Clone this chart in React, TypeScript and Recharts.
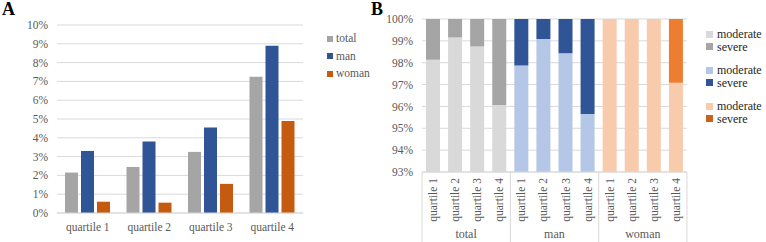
import { Bar, BarChart, CartesianGrid, Cell, Legend, XAxis, YAxis } from "recharts";

const FONT = '"Liberation Serif", "Times New Roman", serif';

// Panel A: share per quartile (%)
const quartiles = ["quartile 1", "quartile 2", "quartile 3", "quartile 4"];
const totalRate = [2.15, 2.45, 3.25, 7.25];
const manRate = [3.3, 3.8, 4.55, 8.9];
const womanRate = [0.6, 0.55, 1.55, 4.9];
const ticksA = [0, 1, 2, 3, 4, 5, 6, 7, 8, 9, 10];

// Panel B: moderate / severe split (%) per group and quartile
const groups = ["total", "man", "woman"];
const moderateByGroup = [
  [98.13, 99.15, 98.74, 96.06],
  [97.87, 99.09, 98.43, 95.65],
  [100, 100, 100, 97.08],
];
const severeByGroup = [
  [1.87, 0.85, 1.26, 3.94],
  [2.13, 0.91, 1.57, 4.35],
  [0, 0, 0, 2.92],
];
const ticksB = [93, 94, 95, 96, 97, 98, 99, 100];

const colorsA = { total: "#a5a5a5", man: "#2f5597", woman: "#c55a11" };
const moderateColors = ["#d9d9d9", "#b4c7e7", "#f8cbad"];
const severeColors = ["#a5a5a5", "#2f5597", "#ed7d31"];
const legendSevereColors = ["#a5a5a5", "#2f5597", "#c9621c"];

const dataA = quartiles.map((q, i) => ({
  quartile: q,
  total: totalRate[i],
  man: manRate[i],
  woman: womanRate[i],
}));

const dataB = groups.flatMap((g, gi) =>
  quartiles.map((q, qi) => ({
    key: `${g}-${qi}`,
    quartile: q,
    group: g,
    gi,
    moderate: moderateByGroup[gi][qi],
    severe: severeByGroup[gi][qi],
  }))
);

const BAND_B = 22;
const TICK_COLOR = "#595959";

function LegendA() {
  const items = [
    { name: "total", color: colorsA.total },
    { name: "man", color: colorsA.man },
    { name: "woman", color: colorsA.woman },
  ];
  return (
    <div style={{ fontFamily: FONT, fontSize: 11.5, color: TICK_COLOR, lineHeight: "17.5px" }}>
      {items.map((it) => (
        <div key={it.name} style={{ display: "flex", alignItems: "center", height: 17.5 }}>
          <span style={{ width: 6, height: 6, background: it.color, marginRight: 3 }} />
          {it.name}
        </div>
      ))}
    </div>
  );
}

function LegendB() {
  return (
    <div style={{ fontFamily: FONT, fontSize: 12, color: "#262626", lineHeight: "12.5px" }}>
      {groups.map((g, gi) => (
        <div key={g} style={{ marginBottom: 11 }}>
          {[
            { name: "moderate", color: moderateColors[gi] },
            { name: "severe", color: legendSevereColors[gi] },
          ].map((it) => (
            <div key={it.name} style={{ display: "flex", alignItems: "center", height: 12.5 }}>
              <span style={{ width: 7, height: 7, background: it.color, marginRight: 4 }} />
              {it.name}
            </div>
          ))}
        </div>
      ))}
    </div>
  );
}

// plain svg tick so the serif font is applied through style
function SerifTick(props: any) {
  const { x, y, payload, textAnchor, tickFormatter, orientation } = props;
  const label = tickFormatter ? tickFormatter(payload.value) : payload.value;
  const dy = orientation === "bottom" ? "0.71em" : "0.355em";
  return (
    <text
      x={x}
      y={y}
      dy={dy}
      textAnchor={textAnchor}
      fill={TICK_COLOR}
      style={{ fontFamily: FONT, fontSize: 11.5 }}
    >
      {label}
    </text>
  );
}

function QuartileTick(props: any) {
  const { x, y, index } = props;
  const row = dataB[index];
  const qi = index % 4;
  const half = BAND_B / 2;
  return (
    <g>
      <text
        x={x}
        y={y + 6}
        transform={`rotate(-90, ${x}, ${y + 6})`}
        textAnchor="end"
        dy="0.35em"
        fill={TICK_COLOR}
        style={{ fontFamily: FONT, fontSize: 11.5 }}
      >
        {row.quartile}
      </text>
      {qi === 0 && <line x1={x - half} x2={x - half} y1={y} y2={y + 70} stroke="#d9d9d9" />}
      {index === dataB.length - 1 && (
        <line x1={x + half} x2={x + half} y1={y} y2={y + 70} stroke="#d9d9d9" />
      )}
      {qi === 1 && (
        <text
          x={x + half}
          y={y + 66}
          textAnchor="middle"
          fill={TICK_COLOR}
          style={{ fontFamily: FONT, fontSize: 12 }}
        >
          {row.group}
        </text>
      )}
    </g>
  );
}

const pct = (v: number) => `${v}%`;

export default function App() {
  return (
    <div
      style={{
        position: "absolute",
        left: 0,
        top: 0,
        width: 766,
        height: 242,
        background: "#fff",
        fontFamily: FONT,
      }}
    >
      <div style={{ position: "absolute", left: 2, top: -1, fontWeight: "bold", fontSize: 18 }}>A</div>
      <div style={{ position: "absolute", left: 371, top: -1, fontWeight: "bold", fontSize: 18 }}>B</div>

      <div style={{ position: "absolute", left: 0, top: 0 }}>
        <BarChart
          width={372}
          height={242}
          data={dataA}
          margin={{ top: 25, right: 69, bottom: 0, left: 0 }}
          barGap={3}
          style={{ fontFamily: FONT }}
        >
          <CartesianGrid vertical={false} stroke="#d9d9d9" />
          <XAxis
            dataKey="quartile"
            height={29}
            tickLine={false}
            tickSize={0}
            tickMargin={10}
            axisLine={{ stroke: "#d9d9d9" }}
            tick={<SerifTick />}
            interval={0}
          />
          <YAxis
            domain={[0, 10]}
            ticks={ticksA}
            interval={0}
            tickFormatter={pct}
            width={57}
            axisLine={false}
            tickLine={false}
            tickSize={0}
            tickMargin={9}
            tick={<SerifTick />}
          />
          <Legend
            layout="vertical"
            align="center"
            verticalAlign="middle"
            content={() => <LegendA />}
            wrapperStyle={{ left: 327, top: 30, width: "auto" }}
          />
          <Bar dataKey="total" fill={colorsA.total} barSize={13} isAnimationActive={false} />
          <Bar dataKey="man" fill={colorsA.man} barSize={13} isAnimationActive={false} />
          <Bar dataKey="woman" fill={colorsA.woman} barSize={13} isAnimationActive={false} />
        </BarChart>
      </div>

      <div style={{ position: "absolute", left: 372, top: 0 }}>
        <BarChart
          width={394}
          height={242}
          data={dataB}
          margin={{ top: 19, right: 79, bottom: 0, left: 0 }}
          barSize={14}
          style={{ fontFamily: FONT }}
        >
          <CartesianGrid vertical={false} stroke="#d9d9d9" />
          <XAxis
            dataKey="key"
            height={70}
            interval={0}
            tickLine={false}
            tickSize={0}
            tickMargin={0}
            axisLine={{ stroke: "#d9d9d9" }}
            tick={<QuartileTick />}
          />
          <YAxis
            domain={[93, 100]}
            ticks={ticksB}
            interval={0}
            allowDataOverflow
            tickFormatter={pct}
            width={50}
            axisLine={false}
            tickLine={false}
            tickSize={0}
            tickMargin={9}
            tick={<SerifTick />}
          />
          <Legend
            layout="vertical"
            align="center"
            verticalAlign="middle"
            content={() => <LegendB />}
            wrapperStyle={{ left: 334, top: 28, width: "auto" }}
          />
          <Bar dataKey="moderate" stackId="s" isAnimationActive={false}>
            {dataB.map((d) => (
              <Cell key={d.key} fill={moderateColors[d.gi]} />
            ))}
          </Bar>
          <Bar dataKey="severe" stackId="s" isAnimationActive={false}>
            {dataB.map((d) => (
              <Cell key={d.key} fill={severeColors[d.gi]} />
            ))}
          </Bar>
        </BarChart>
      </div>
    </div>
  );
}
